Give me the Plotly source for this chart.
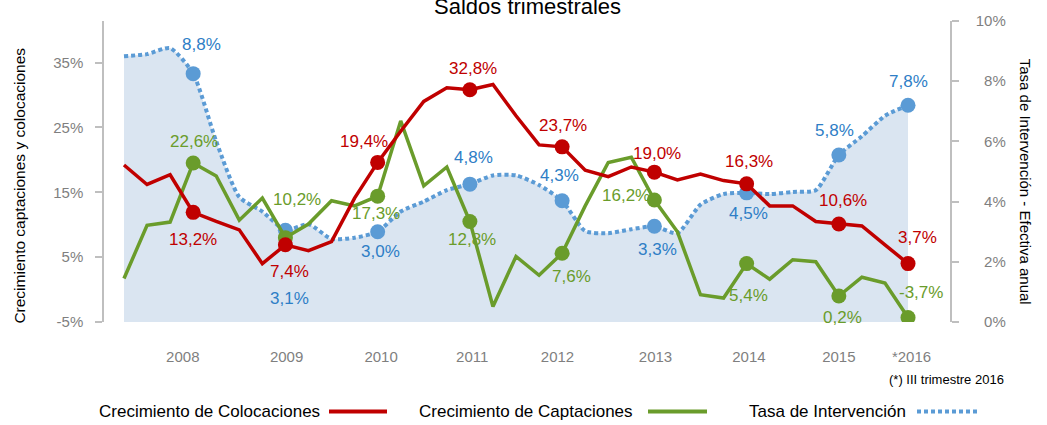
import plotly.graph_objects as go

# ---------------- data ----------------
quarters = list(range(35))  # 2008-I ... 2016-III
colocaciones = [19.2, 16.2, 17.7, 11.9, 10.5, 9.2, 4.0, 6.9, 6.0, 7.4, 14.1, 19.6, 24.4, 29.0, 31.1,
                30.8, 31.6, 26.8, 22.3, 22.0, 18.4, 17.4, 18.9, 18.1, 16.9, 17.8, 16.8, 16.3, 12.9,
                12.9, 10.5, 10.1, 9.8, 6.9, 4.0]
captaciones = [1.7, 9.9, 10.4, 19.5, 17.5, 10.7, 14.1, 8.0, 10.1, 13.7, 12.9, 14.4, 26.0, 16.0, 18.9,
               10.5, -2.6, 5.1, 2.2, 5.6, 12.9, 19.6, 20.4, 13.8, 8.9, -0.8, -1.3, 4.0, 1.6, 4.6,
               4.3, -1.0, 1.9, 1.0, -4.3]
tasa = [8.83, 8.9, 9.1, 8.25, 6.0, 4.15, 3.67, 3.05, 3.25, 2.76, 2.8, 3.0, 3.67, 4.0, 4.38, 4.58,
        4.87, 4.87, 4.55, 4.03, 3.02, 2.95, 3.08, 3.18, 2.95, 3.9, 4.25, 4.29, 4.25, 4.32, 4.38,
        5.55, 6.17, 6.85, 7.2]
marker_idx = [3, 7, 11, 15, 19, 23, 27, 31, 34]
year_labels = ["2008", "2009", "2010", "2011", "2012", "2013", "2014", "2015", "*2016"]
red_labels = ["13,2%", "7,4%", "19,4%", "32,8%", "23,7%", "19,0%", "16,3%", "10,6%", "3,7%"]
green_labels = ["22,6%", "10,2%", "17,3%", "12,8%", "7,6%", "16,2%", "5,4%", "0,2%", "-3,7%"]
blue_labels = ["8,8%", "3,1%", "3,0%", "4,8%", "4,3%", "3,3%", "4,5%", "5,8%", "7,8%"]
left_ticks = [-5, 5, 15, 25, 35]
right_ticks = [0, 2, 4, 6, 8, 10]

# ---------------- style ----------------
FONT = "Liberation Sans Narrow, Arial Narrow, Liberation Sans, Arial, sans-serif"
RED = "#C00000"
GREEN = "#6A9C2B"
BLUE = "#5B9BD5"
BLUE_TXT = "#2E7EC6"
FILL = "#DAE5F1"
GRAY = "#7F7F7F"
AXIS = "#BFBFBF"

W, H = 1047, 425
L, R, T, B = 104, 97, 13, 103
pw, ph = W - L - R, H - T - B

def px_x(p):
    return (p - L) / pw

def px_y(p):
    return (H - B - p) / ph

fig = go.Figure()

# Tasa de Intervención (base axis, right side) with area fill
fig.add_trace(go.Scatter(
    x=quarters, y=tasa, yaxis="y", mode="lines",
    line=dict(color=BLUE, width=4, dash="4px,3px", shape="spline", smoothing=0.6),
    fill="tozeroy", fillcolor=FILL, hoverinfo="skip", showlegend=False))
fig.add_trace(go.Scatter(
    x=[quarters[i] for i in marker_idx], y=[tasa[i] for i in marker_idx], yaxis="y",
    mode="markers", marker=dict(color=BLUE, size=15), showlegend=False))

# Captaciones and Colocaciones on overlaying left axis
fig.add_trace(go.Scatter(
    x=quarters, y=captaciones, yaxis="y2", mode="lines",
    line=dict(color=GREEN, width=3.5), showlegend=False))
fig.add_trace(go.Scatter(
    x=[quarters[i] for i in marker_idx], y=[captaciones[i] for i in marker_idx], yaxis="y2",
    mode="markers", marker=dict(color=GREEN, size=15), showlegend=False))
fig.add_trace(go.Scatter(
    x=quarters, y=colocaciones, yaxis="y2", mode="lines",
    line=dict(color=RED, width=3.5), showlegend=False))
fig.add_trace(go.Scatter(
    x=[quarters[i] for i in marker_idx], y=[colocaciones[i] for i in marker_idx], yaxis="y2",
    mode="markers", marker=dict(color=RED, size=15), showlegend=False))

ann = []
red_off = [(0, -27), (4, -27), (-14, 21), (3, 21), (1, 21), (3, 19), (2, 22), (4, 24), (9, 26)]
green_off = [(1, 22), (12, 38), (-2, -17), (2, -18), (9, -23), (-28, 5), (2, -32), (4, -21), (13, 25)]
blue_off = [(8, 29), (4, -68), (3, -20), (4, 27), (-3, 25), (3, -23), (2, -21), (-4, 24), (0, 24)]
LBL = 17
for k, i in enumerate(marker_idx):
    ann.append(dict(x=quarters[i], y=colocaciones[i], xref="x", yref="y2", text=red_labels[k],
                    showarrow=False, xshift=red_off[k][0], yshift=red_off[k][1],
                    font=dict(family=FONT, size=LBL, color=RED)))
    ann.append(dict(x=quarters[i], y=captaciones[i], xref="x", yref="y2", text=green_labels[k],
                    showarrow=False, xshift=green_off[k][0], yshift=green_off[k][1],
                    font=dict(family=FONT, size=LBL, color=GREEN)))
    ann.append(dict(x=quarters[i], y=tasa[i], xref="x", yref="y", text=blue_labels[k],
                    showarrow=False, xshift=blue_off[k][0], yshift=blue_off[k][1],
                    font=dict(family=FONT, size=LBL, color=BLUE_TXT)))

# title (top edge touches the page edge, as in the original)
ann.append(dict(x=px_x(527), y=px_y(-2), xref="paper", yref="paper", text="Saldos trimestrales",
                showarrow=False, xanchor="center", yanchor="middle",
                font=dict(family=FONT, size=22, color="#000000")))
# axis titles
ann.append(dict(x=px_x(20), y=px_y(182), xref="paper", yref="paper",
                text="Crecimiento captaciones y colocaciones", textangle=-90, showarrow=False,
                xanchor="center", yanchor="middle", font=dict(family=FONT, size=15.5, color="#000000")))
ann.append(dict(x=px_x(1025), y=px_y(178), xref="paper", yref="paper",
                text="Tasa de Intervención - Efectiva anual", textangle=90, showarrow=False,
                xanchor="center", yanchor="middle", font=dict(family=FONT, size=15, color="#000000")))
# footnote
ann.append(dict(x=px_x(1006), y=px_y(381), xref="paper", yref="paper", text="(*) III trimestre 2016",
                showarrow=False, xanchor="right", yanchor="middle",
                font=dict(family=FONT, size=13, color="#000000")))

# custom legend (text then line sample)
legend_items = [("Crecimiento de Colocaciones", 322, 329, 387, RED, "solid"),
                ("Crecimiento de Captaciones", 635, 648, 707, GREEN, "solid"),
                ("Tasa de Intervención", 908, 917, 977, BLUE, "dot")]
shapes = []
for text, tx, x0, x1, col, dash in legend_items:
    ann.append(dict(x=px_x(tx), y=px_y(414), xref="paper", yref="paper", text=text,
                    showarrow=False, xanchor="right", yanchor="middle",
                    font=dict(family=FONT, size=17, color="#000000")))
    shapes.append(dict(type="line", xref="paper", yref="paper", x0=px_x(x0), x1=px_x(x1),
                       y0=px_y(414), y1=px_y(414),
                       line=dict(color=col, width=4,
                                 dash="solid" if dash == "solid" else "4px,3px")))

fig.update_layout(
    width=W, height=H,
    margin=dict(l=L, r=R, t=T, b=B, pad=0),
    paper_bgcolor="white", plot_bgcolor="white",
    showlegend=False,
    xaxis=dict(range=[-0.867, 35.82], showgrid=False, zeroline=False, showline=False,
               tickmode="array", tickvals=[2.55, 7.05, 11.15, 15.1, 18.8, 23.05, 27.1, 31.0, 34.15],
               ticktext=year_labels, ticks="", ticklabelstandoff=24,
               tickfont=dict(family=FONT, size=15, color=GRAY)),
    yaxis=dict(side="right", range=[0, 10], showgrid=False, zeroline=False,
               showline=True, linecolor=AXIS, linewidth=1.5,
               ticks="outside", ticklen=7, tickcolor=AXIS, tickwidth=1.5,
               tickmode="array", tickvals=right_ticks,
               ticktext=[("\u2007" if v < 10 else "") + f"{v}%" for v in right_ticks],
               ticklabelstandoff=14,
               tickfont=dict(family=FONT, size=15, color=GRAY)),
    yaxis2=dict(side="left", overlaying="y", range=[-5, 41.4], showgrid=False, zeroline=False,
                showline=True, linecolor=AXIS, linewidth=1.5,
                ticks="outside", ticklen=7, tickcolor=AXIS, tickwidth=1.5,
                tickmode="array", tickvals=left_ticks, ticktext=[f"{v}%" for v in left_ticks],
                ticklabelstandoff=9,
                tickfont=dict(family=FONT, size=15, color=GRAY)),
    annotations=ann,
    shapes=shapes,
)

fig.write_html("out.html")
